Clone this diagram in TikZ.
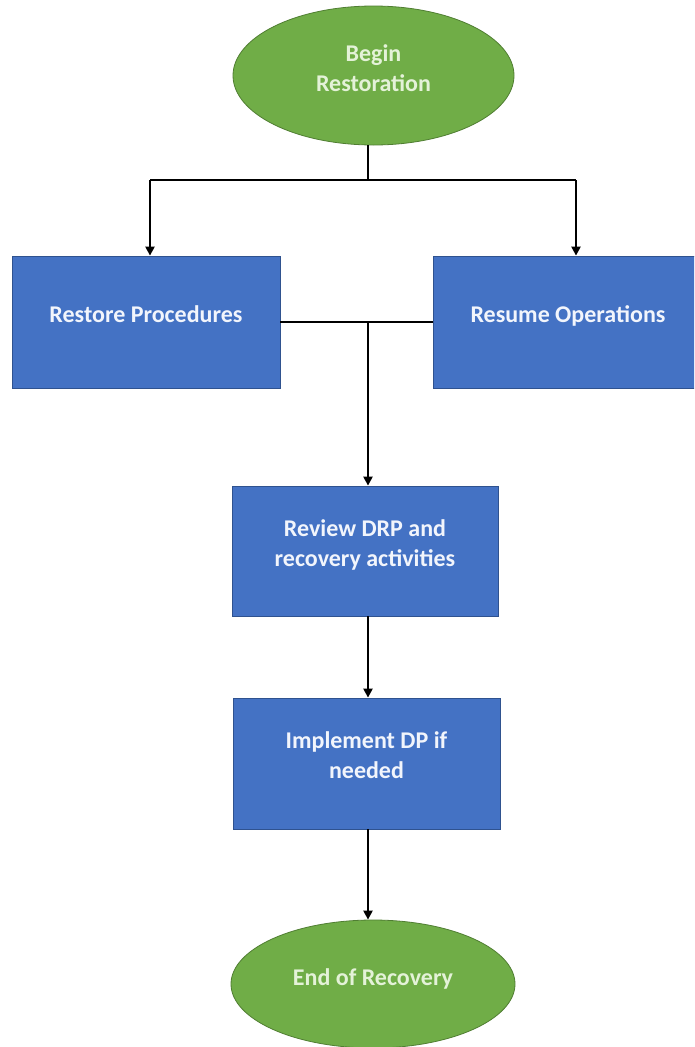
\documentclass[tikz,border=0pt]{standalone}
\usepackage{fontspec}
\setmainfont{Carlito}
\usetikzlibrary{shapes.geometric,arrows.meta}
\definecolor{ogreen}{HTML}{70AD47}
\definecolor{ogreenb}{HTML}{507E32}
\definecolor{oblue}{HTML}{4472C4}
\definecolor{oblueb}{HTML}{2F528F}
\definecolor{gtext}{HTML}{E4F2D8}
\definecolor{btext}{HTML}{F2F5FC}
\tikzset{
  termnode/.style={ellipse, fill=ogreen, draw=ogreenb, line width=0.8pt, inner sep=0pt,
    text=gtext, font=\fontsize{24}{30}\selectfont\bfseries, align=center, text depth=14pt},
  procbox/.style={rectangle, fill=oblue, draw=oblueb, line width=0.8pt, inner sep=0pt,
    text=btext, font=\fontsize{24}{30}\selectfont\bfseries, align=center, text depth=16pt},
  conn/.style={line width=2.2pt, black},
  arr/.style={conn, -{Triangle[width=9pt,length=9pt]}}
}
\begin{document}
\begin{tikzpicture}[x=1pt,y=1pt]
\useasboundingbox (0,0) rectangle (694,-1047);
\fill[white] (0,0) rectangle (694,-1047);
\clip (0,0) rectangle (694,-1047);
\node[termnode, minimum width=281, minimum height=139] (top) at (373.5,-75.5) {Begin\\Restoration};
\node[procbox, minimum width=268, minimum height=132] (rp) at (146,-322) {Restore Procedures};
\node[procbox, minimum width=270, minimum height=132] (ro) at (568,-322) {Resume Operations};
\node[procbox, minimum width=266, minimum height=130] (rv) at (365,-551) {Review DRP and\\recovery activities};
\node[procbox, minimum width=267, minimum height=131] (im) at (366.5,-763.5) {Implement DP if\\needed};
\node[termnode, minimum width=284, minimum height=128] (en) at (373,-984) {End of Recovery};
\coordinate (j1) at (368,-180);
\coordinate (la) at (150,-180);
\coordinate (ra) at (576,-180);
\coordinate (j2) at (368,-321);
\draw[conn] (top.south -| j1) -- (j1);
\draw[conn] (la) -- (ra);
\draw[arr] (la) -- (la |- rp.north);
\draw[arr] (ra) -- (ra |- ro.north);
\draw[conn] (rp.east) -- (ro.west);
\draw[arr] (j2) -- (j2 |- rv.north);
\draw[arr] (rv.south -| j2) -- (im.north -| j2);
\draw[arr] (im.south -| j2) -- (en.north -| j2);
\end{tikzpicture}
\end{document}
